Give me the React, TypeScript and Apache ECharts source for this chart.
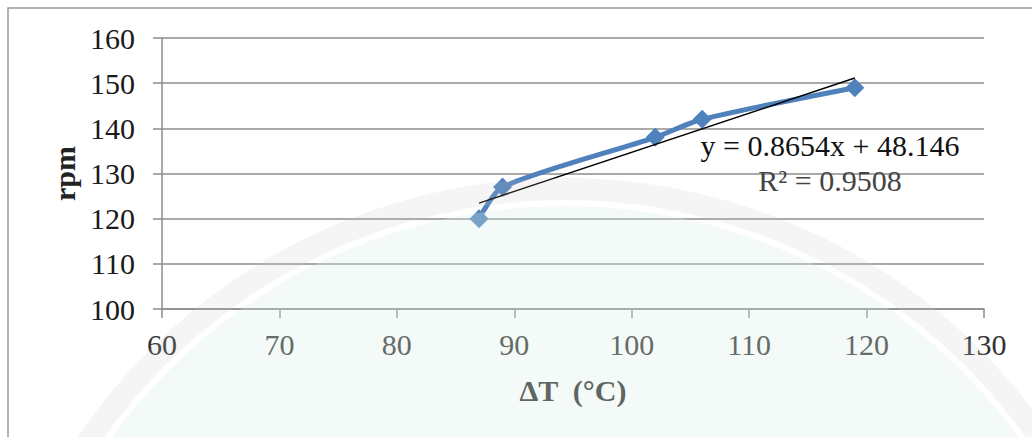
import React, { useEffect, useRef } from "react";
import * as echarts from "echarts";

const deltaT = [87, 89, 102, 106, 119];
const rpm = [120, 127, 138, 142, 149];
const trendSlope = 0.8654;
const trendIntercept = 48.146;
const trendRange = [87, 119];
const equationText = "y = 0.8654x + 48.146";
const r2Text = "R² = 0.9508";

const FONT = "'Liberation Serif', 'Times New Roman', serif";

export default function App() {
  const ref = useRef<HTMLDivElement>(null);
  useEffect(() => {
    if (!ref.current) return;
    const chart = echarts.init(ref.current, undefined, { renderer: "svg" });
    const mainData = deltaT.map((x, i) => [x, rpm[i]]);
    const trendData = trendRange.map((x) => [x, trendSlope * x + trendIntercept]);
    chart.setOption({
      animation: false,
      backgroundColor: "#ffffff",
      grid: { left: 162, right: 48, top: 38, bottom: 128 },
      xAxis: {
        type: "value",
        min: 60,
        max: 130,
        interval: 10,
        name: "ΔT  (°C)",
        nameLocation: "middle",
        nameGap: 66,
        nameTextStyle: { fontFamily: FONT, fontSize: 30, fontWeight: "bold", color: "#2a2a2a" },
        axisLine: { show: true, lineStyle: { color: "#8c8c8c", width: 1.5 } },
        axisTick: { show: true, length: 9, lineStyle: { color: "#8c8c8c", width: 1.5 } },
        axisLabel: { fontFamily: FONT, fontSize: 30, color: "#333", margin: 20 },
        splitLine: { show: false },
      },
      yAxis: {
        type: "value",
        min: 100,
        max: 160,
        interval: 10,
        name: "rpm",
        nameLocation: "middle",
        nameRotate: 90,
        nameGap: 83,
        nameTextStyle: { fontFamily: FONT, fontSize: 30, fontWeight: "bold", color: "#222" },
        axisLine: { show: true, lineStyle: { color: "#8c8c8c", width: 1.5 } },
        axisTick: { show: true, length: 9, lineStyle: { color: "#8c8c8c", width: 1.5 } },
        axisLabel: { fontFamily: FONT, fontSize: 30, color: "#1a1a1a", margin: 27 },
        splitLine: { show: true, lineStyle: { color: "#8c8c8c", width: 1.5 } },
      },
      series: [
        {
          type: "line",
          data: mainData,
          smooth: 0.25,
          lineStyle: { color: "#4F81BD", width: 5 },
          itemStyle: { color: "#4F81BD" },
          symbol: "diamond",
          symbolSize: 19,
          z: 3,
        },
        {
          type: "line",
          data: trendData,
          symbol: "none",
          lineStyle: { color: "#000000", width: 1.5 },
          z: 4,
        },
      ],
      graphic: [
        {
          type: "rect",
          silent: true,
          shape: { x: 8, y: 8, width: 1040, height: 440 },
          style: { fill: "none", stroke: "#9a9a9a", lineWidth: 1.5 },
          z: 0,
        },
        {
          type: "text",
          silent: true,
          x: 830,
          y: 145,
          style: {
            text: equationText,
            fontFamily: FONT,
            fontSize: 30,
            fill: "#111",
            align: "center",
            verticalAlign: "middle",
          },
          z: 10,
        },
        {
          type: "text",
          silent: true,
          x: 830,
          y: 180,
          style: {
            text: r2Text,
            fontFamily: FONT,
            fontSize: 30,
            fill: "#444",
            align: "center",
            verticalAlign: "middle",
          },
          z: 10,
        },
        {
          type: "circle",
          silent: true,
          shape: { cx: 565, cy: 766, r: 560 },
          style: { fill: "rgba(220,240,228,0.3)" },
          z: 20,
        },
        {
          type: "ring",
          silent: true,
          shape: { cx: 565, cy: 766, r: 588, r0: 566 },
          style: { fill: "rgba(200,200,200,0.18)" },
          z: 20,
        },
      ],
    });
    return () => chart.dispose();
  }, []);
  return <div ref={ref} style={{ width: 1032, height: 437, position: "absolute", left: 0, top: 0 }} />;
}
